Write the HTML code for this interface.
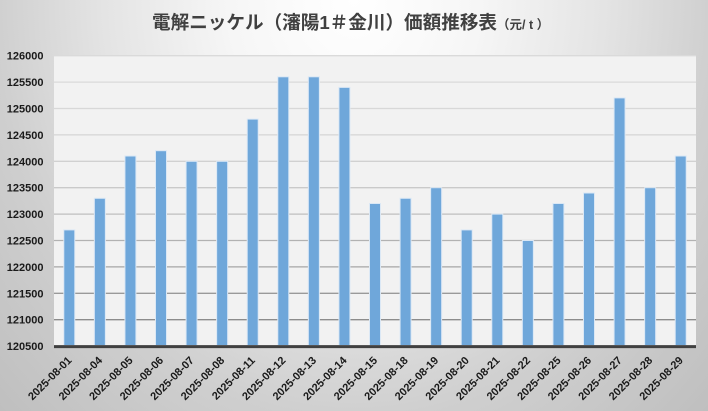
<!DOCTYPE html>
<html><head><meta charset="utf-8">
<style>
html,body{margin:0;padding:0;}
body{width:708px;height:411px;overflow:hidden;}
svg{display:block;}
</style></head>
<body>
<svg width="708" height="411" viewBox="0 0 708 411" xmlns="http://www.w3.org/2000/svg">
<defs>
<radialGradient id="bg" cx="354" cy="0" r="500" gradientUnits="userSpaceOnUse" gradientTransform="translate(354 0) scale(1 1.16) translate(-354 0)">
<stop offset="0" stop-color="#ffffff"/>
<stop offset="0.25" stop-color="#f6f6f6"/>
<stop offset="0.5" stop-color="#e4e4e4"/>
<stop offset="0.72" stop-color="#cfcfcf"/>
<stop offset="1" stop-color="#bfbfbf"/>
</radialGradient>
</defs>
<rect x="0" y="0" width="708" height="411" fill="url(#bg)"/>
<rect x="54" y="55.7" width="642" height="290.4" fill="#f2f2f2"/>
<g stroke-width="1.3">
<line x1="54" x2="696" y1="55.7" y2="55.7" stroke="#dadada"/>
<line x1="54" x2="696" y1="82.1" y2="82.1" stroke="#d9d9d9"/>
<line x1="54" x2="696" y1="108.5" y2="108.5" stroke="#d8d8d8"/>
<line x1="54" x2="696" y1="134.9" y2="134.9" stroke="#d5d5d5"/>
<line x1="54" x2="696" y1="161.3" y2="161.3" stroke="#d1d1d1"/>
<line x1="54" x2="696" y1="187.7" y2="187.7" stroke="#cacaca"/>
<line x1="54" x2="696" y1="214.1" y2="214.1" stroke="#bfbfbf"/>
<line x1="54" x2="696" y1="240.5" y2="240.5" stroke="#b2b2b2"/>
<line x1="54" x2="696" y1="266.9" y2="266.9" stroke="#a6a6a6"/>
<line x1="54" x2="696" y1="293.3" y2="293.3" stroke="#9a9a9a"/>
<line x1="54" x2="696" y1="319.7" y2="319.7" stroke="#8c8c8c"/>
</g>
<g fill="#6fa7da" stroke="#dbe8f5" stroke-width="1">
<rect x="63.79" y="229.9" width="11" height="115.6"/>
<rect x="94.36" y="198.3" width="11" height="147.2"/>
<rect x="124.93" y="156.0" width="11" height="189.5"/>
<rect x="155.5" y="150.7" width="11" height="194.8"/>
<rect x="186.07" y="161.3" width="11" height="184.2"/>
<rect x="216.64" y="161.3" width="11" height="184.2"/>
<rect x="247.21" y="119.1" width="11" height="226.4"/>
<rect x="277.79" y="76.8" width="11" height="268.7"/>
<rect x="308.36" y="76.8" width="11" height="268.7"/>
<rect x="338.93" y="87.4" width="11" height="258.1"/>
<rect x="369.5" y="203.5" width="11" height="142.0"/>
<rect x="400.07" y="198.3" width="11" height="147.2"/>
<rect x="430.64" y="187.7" width="11" height="157.8"/>
<rect x="461.21" y="229.9" width="11" height="115.6"/>
<rect x="491.79" y="214.1" width="11" height="131.4"/>
<rect x="522.36" y="240.5" width="11" height="105.0"/>
<rect x="552.93" y="203.5" width="11" height="142.0"/>
<rect x="583.5" y="193.0" width="11" height="152.5"/>
<rect x="614.07" y="97.9" width="11" height="247.6"/>
<rect x="644.64" y="187.7" width="11" height="157.8"/>
<rect x="675.21" y="156.0" width="11" height="189.5"/>
</g>
<line x1="54" x2="696" y1="346.6" y2="346.6" stroke="#404040" stroke-width="3"/>
<g font-family="Liberation Sans, Arial, sans-serif" font-weight="bold" font-size="11" fill="#1a1a1a" text-anchor="end">
<text x="43.5" y="59.7">126000</text>
<text x="43.5" y="86.1">125500</text>
<text x="43.5" y="112.5">125000</text>
<text x="43.5" y="138.9">124500</text>
<text x="43.5" y="165.3">124000</text>
<text x="43.5" y="191.7">123500</text>
<text x="43.5" y="218.1">123000</text>
<text x="43.5" y="244.5">122500</text>
<text x="43.5" y="270.9">122000</text>
<text x="43.5" y="297.3">121500</text>
<text x="43.5" y="323.7">121000</text>
<text x="43.5" y="350.1">120500</text>
</g>
<g font-family="Liberation Sans, Arial, sans-serif" font-weight="bold" font-size="11" fill="#1a1a1a" text-anchor="end">
<text transform="translate(72.3 361) rotate(-45)">2025-08-01</text>
<text transform="translate(102.9 361) rotate(-45)">2025-08-04</text>
<text transform="translate(133.4 361) rotate(-45)">2025-08-05</text>
<text transform="translate(164.0 361) rotate(-45)">2025-08-06</text>
<text transform="translate(194.6 361) rotate(-45)">2025-08-07</text>
<text transform="translate(225.1 361) rotate(-45)">2025-08-08</text>
<text transform="translate(255.7 361) rotate(-45)">2025-08-11</text>
<text transform="translate(286.3 361) rotate(-45)">2025-08-12</text>
<text transform="translate(316.9 361) rotate(-45)">2025-08-13</text>
<text transform="translate(347.4 361) rotate(-45)">2025-08-14</text>
<text transform="translate(378.0 361) rotate(-45)">2025-08-15</text>
<text transform="translate(408.6 361) rotate(-45)">2025-08-18</text>
<text transform="translate(439.1 361) rotate(-45)">2025-08-19</text>
<text transform="translate(469.7 361) rotate(-45)">2025-08-20</text>
<text transform="translate(500.3 361) rotate(-45)">2025-08-21</text>
<text transform="translate(530.9 361) rotate(-45)">2025-08-22</text>
<text transform="translate(561.4 361) rotate(-45)">2025-08-25</text>
<text transform="translate(592.0 361) rotate(-45)">2025-08-26</text>
<text transform="translate(622.6 361) rotate(-45)">2025-08-27</text>
<text transform="translate(653.1 361) rotate(-45)">2025-08-28</text>
<text transform="translate(683.7 361) rotate(-45)">2025-08-29</text>
</g>
<text x="152" y="29" font-family="Liberation Sans, 'Noto Sans CJK JP', sans-serif" font-weight="bold" font-size="18.6" fill="#404040">電解ニッケル（瀋陽1＃金川）価額推移表<tspan font-size="12.5" font-weight="bold" dx="0">（元/ t ）</tspan></text>
</svg>
</body></html>
